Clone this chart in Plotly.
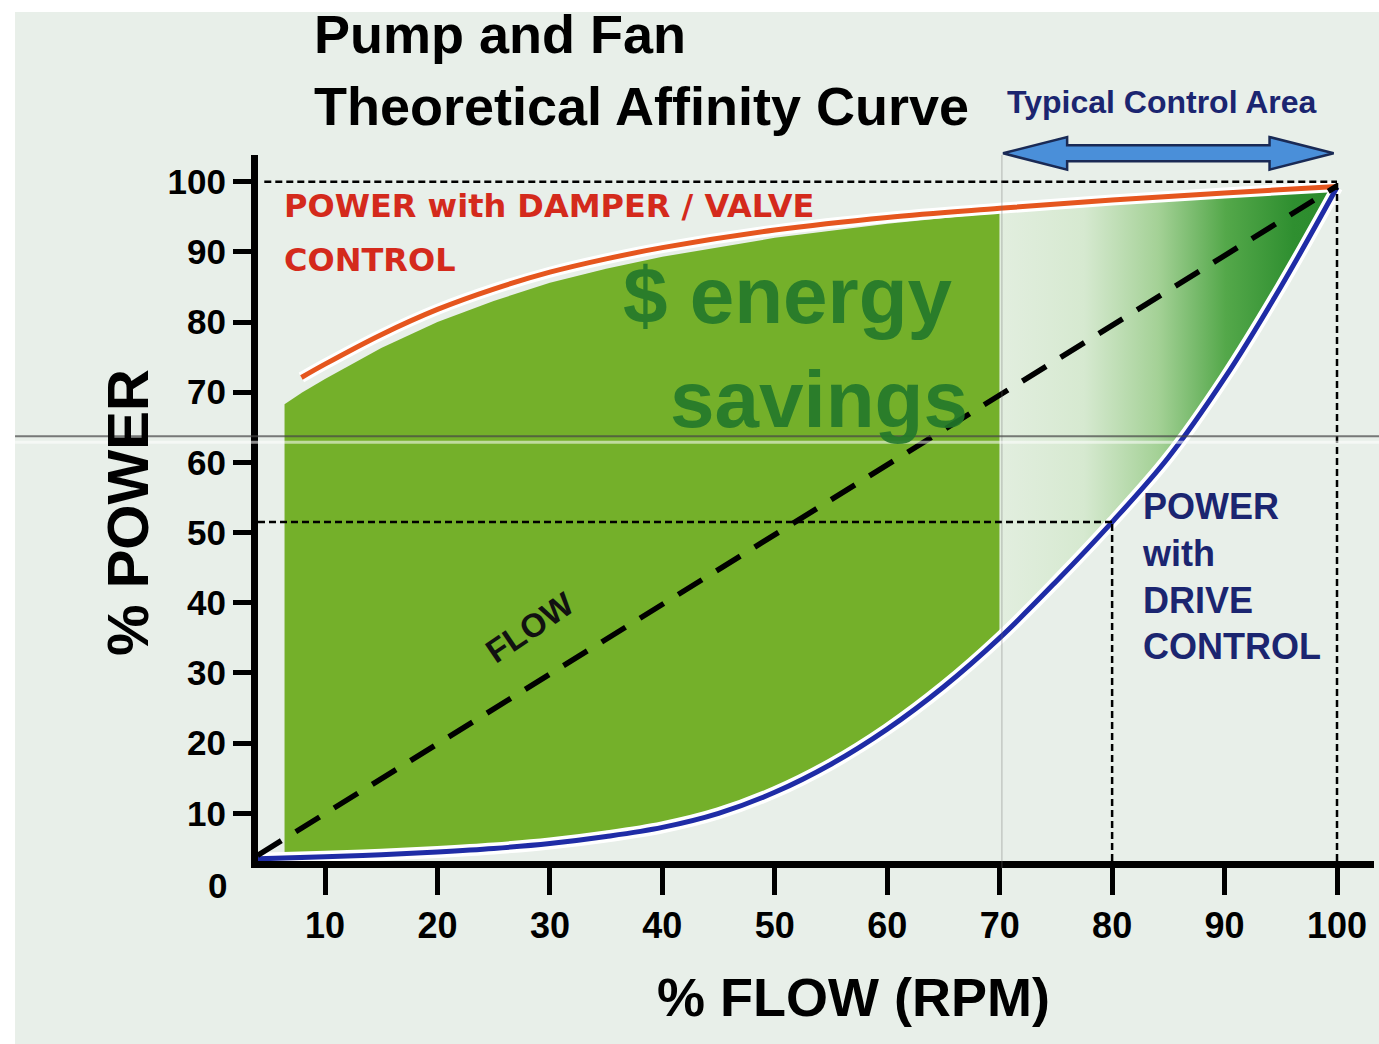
import numpy as np
import plotly.graph_objects as go

# ---------------- data ----------------
FLOW_TICKS = [10, 20, 30, 40, 50, 60, 70, 80, 90, 100]
POWER_TICKS = [10, 20, 30, 40, 50, 60, 70, 80, 90, 100]

# power with damper / valve control (red curve)
DAMPER_FLOW = [7.9, 10, 15, 20, 25, 30, 35, 40, 50, 60, 70, 80, 90, 100]
DAMPER_POWER = [72.1, 74.0, 78.2, 81.8, 84.7, 87.1, 89.0, 90.6, 93.1, 94.9, 96.2, 97.4, 98.4, 99.3]

# upper edge of the green "energy savings" area
SAVINGS_TOP_FLOW = [6.4, 8, 10, 15, 20, 25, 30, 35, 40, 50, 60, 70, 80, 90, 100]
SAVINGS_TOP_POWER = [68.3, 70.0, 71.9, 76.3, 80.0, 83.0, 85.6, 87.6, 89.3, 92.0, 94.0, 95.6, 96.9, 98.0, 99.1]

# power with drive control (blue curve)
DRIVE_FLOW = [3.75, 10, 15, 20, 25, 30, 35, 40, 45, 50, 55, 60, 65, 70, 75, 80, 85, 90, 95, 100]
DRIVE_POWER = [3.5, 3.8, 4.1, 4.5, 5.0, 5.7, 6.7, 8.0, 10.0, 13.0, 17.0, 22.0, 28.0, 35.0, 43.0,
               51.5, 60.7, 72.0, 85.0, 99.2]

# flow line (dashed)
FLOW_LINE_FLOW = [4, 100]
FLOW_LINE_POWER = [4, 99.4]

SAVINGS_START = 6.4          # left edge of the savings area (% flow)
CONTROL_AREA = [70, 100]     # typical control area (% flow)
REF_FLOW, REF_POWER = 80, 51.5
FULL = 100
GUIDE_START = 4.6

X_RANGE = [4.04, 103.29]
Y_RANGE = [3.21, 103.8]

BG = "#e8efe9"
GREEN = "#74b02a"
RED_LINE = "#e5561e"
RED_TEXT = "#d42a1c"
BLUE_LINE = "#1f2ca6"
NAVY = "#1b2570"
DARK_GREEN = "#22782b"

BOLD = "Liberation Sans"

# ---------------- geometry of the filled areas ----------------
split = CONTROL_AREA[0]
top_x1 = [x for x in SAVINGS_TOP_FLOW if x <= split]
top_y1 = [y for x, y in zip(SAVINGS_TOP_FLOW, SAVINGS_TOP_POWER) if x <= split]
bot_x1 = [split] + [x for x in reversed(DRIVE_FLOW) if SAVINGS_START < x < split] + [SAVINGS_START]
bot_y1 = list(np.interp(bot_x1, DRIVE_FLOW, DRIVE_POWER))
poly1_x = top_x1 + bot_x1
poly1_y = top_y1 + bot_y1

top_x2 = [x for x in SAVINGS_TOP_FLOW if x >= split]
top_y2 = [y for x, y in zip(SAVINGS_TOP_FLOW, SAVINGS_TOP_POWER) if x >= split]
bot_x2 = [x for x in reversed(DRIVE_FLOW) if x > split] + [split]
bot_y2 = list(np.interp(bot_x2, DRIVE_FLOW, DRIVE_POWER))
poly2_x = top_x2 + bot_x2
poly2_y = top_y2 + bot_y2

fig = go.Figure()

fig.add_trace(go.Scatter(x=poly1_x, y=poly1_y, fill="toself", fillcolor=GREEN,
                         mode="lines", line=dict(width=0), hoverinfo="skip"))
fig.add_trace(go.Scatter(
    x=poly2_x, y=poly2_y, fill="toself", mode="lines", line=dict(width=0), hoverinfo="skip",
    fillgradient=dict(type="horizontal",
                      colorscale=[[0, "#e2eedf"], [0.25, "#d6e9d0"], [0.47, "#a4d196"],
                                  [0.67, "#54a84a"], [0.87, "#2f8f30"], [1, "#2a8a2b"]])))

# white halos + curves
fig.add_trace(go.Scatter(x=DAMPER_FLOW, y=DAMPER_POWER, mode="lines", line_shape="spline",
                         line=dict(color="white", width=11), hoverinfo="skip"))
fig.add_trace(go.Scatter(x=DRIVE_FLOW, y=DRIVE_POWER, mode="lines", line_shape="spline",
                         line=dict(color="white", width=12), hoverinfo="skip"))
fig.add_trace(go.Scatter(x=DAMPER_FLOW, y=DAMPER_POWER, mode="lines", line_shape="spline",
                         line=dict(color=RED_LINE, width=5), name="Power with damper / valve control"))
fig.add_trace(go.Scatter(x=DRIVE_FLOW, y=DRIVE_POWER, mode="lines", line_shape="spline",
                         line=dict(color=BLUE_LINE, width=5), name="Power with drive control"))
fig.add_trace(go.Scatter(x=FLOW_LINE_FLOW, y=FLOW_LINE_POWER, mode="lines",
                         line=dict(color="black", width=5.5, dash="28px,17px"), name="Flow"))

# ---------------- shapes ----------------
shapes = []
# page background with white scan border
shapes.append(dict(type="rect", xref="paper", yref="paper", x0=-0.2177, x1=1.02, y0=-0.26, y1=1.2025,
                   fillcolor=BG, line=dict(width=0), layer="below"))
guide = dict(color="black", width=2.5, dash="7px,4px")
shapes += [
    dict(type="line", xref="x", yref="y", x0=GUIDE_START, x1=FULL, y0=FULL, y1=FULL, line=guide),
    dict(type="line", xref="x", yref="y", x0=FULL, x1=FULL, y0=Y_RANGE[0], y1=FULL, line=guide),
    dict(type="line", xref="x", yref="y", x0=X_RANGE[0], x1=REF_FLOW, y0=REF_POWER, y1=REF_POWER, line=guide),
    dict(type="line", xref="x", yref="y", x0=REF_FLOW, x1=REF_FLOW, y0=Y_RANGE[0], y1=REF_POWER, line=guide),
]
# faint fold lines of the scanned sheet
shapes.append(dict(type="line", xref="x", yref="paper", x0=70.2, x1=70.2, y0=-0.01, y1=1.0,
                   line=dict(color="rgba(110,110,110,0.45)", width=1)))
shapes.append(dict(type="line", xref="paper", yref="paper", x0=-0.2177, x1=1.02, y0=0.6015, y1=0.6015,
                   line=dict(color="rgba(70,70,70,0.7)", width=2)))
shapes.append(dict(type="line", xref="paper", yref="paper", x0=-0.2177, x1=1.02, y0=0.593, y1=0.593,
                   line=dict(color="rgba(255,255,255,0.55)", width=3)))

# double arrow marking the typical control area
a0, a1 = CONTROL_AREA
hl = 6.0
yc, yh, ys = 1.0024, 0.0231, 0.0113
path = (f"M {a0+0.3},{yc} L {a0+hl},{yc+yh} L {a0+hl},{yc+ys} L {a1-hl},{yc+ys} L {a1-hl},{yc+yh} "
        f"L {a1-0.3},{yc} L {a1-hl},{yc-yh} L {a1-hl},{yc-ys} L {a0+hl},{yc-ys} L {a0+hl},{yc-yh} Z")
shapes.append(dict(type="path", xref="x", yref="paper", path=path, fillcolor="#4a8fd9",
                   line=dict(color="#1a2a55", width=2.5)))

# ---------------- annotations ----------------
def txt(text, x, y, size, color, xref="paper", yref="paper", xanchor="left", angle=0,
        family=BOLD, weight=700, align="left", opacity=1):
    return dict(text=text, x=x, y=y, xref=xref, yref=yref, xanchor=xanchor, yanchor="middle",
                showarrow=False, textangle=angle, align=align, opacity=opacity,
                font=dict(family=family, size=size, color=color, weight=weight))

ann = [
    txt("Pump and Fan", 0.0484, 1.171, 54, "black"),
    txt("Theoretical Affinity Curve", 0.0484, 1.069, 54, "black"),
    txt("Typical Control Area", 0.6694, 1.0748, 32, NAVY),
    txt("% POWER", -0.1174, 0.4943, 58, "black", xanchor="center", angle=-90),
    txt("% FLOW (RPM)", 0.5336, -0.1931, 54, "black", xanchor="center"),
    txt("0", -0.0367, -0.0354, 35, "black", xanchor="center"),
    txt("POWER with DAMPER / VALVE", 6.2, 96.5, 32, RED_TEXT, xref="x", yref="y", family="DejaVu Sans"),
    txt("CONTROL", 6.2, 88.9, 32, RED_TEXT, xref="x", yref="y", family="DejaVu Sans"),
    txt("POWER<br>with<br>DRIVE<br>CONTROL", 82.5, 43.7, 36, NAVY, xref="x", yref="y"),
    txt("$ energy", 51.2, 83.8, 80, DARK_GREEN, xref="x", yref="y", xanchor="center", opacity=0.9),
    txt("savings", 53.9, 69.0, 80, DARK_GREEN, xref="x", yref="y", xanchor="center", opacity=0.9),
    txt("FLOW", 28.2, 36.5, 33, "#111111", xref="x", yref="y", xanchor="center", angle=-34),
]

fig.update_layout(
    width=1379, height=1044,
    margin=dict(l=258, r=5, t=155, b=183),
    paper_bgcolor="white", plot_bgcolor=BG,
    showlegend=False,
    shapes=shapes, annotations=ann,
    xaxis=dict(range=X_RANGE, tickvals=FLOW_TICKS, ticks="outside", ticklen=27, tickwidth=5,
               tickcolor="black", showline=True, linewidth=7, linecolor="black",
               showgrid=False, zeroline=False,
               tickfont=dict(family=BOLD, size=36, color="black", weight=700)),
    yaxis=dict(range=Y_RANGE, tickvals=POWER_TICKS, ticks="outside", ticklen=18, tickwidth=5,
               tickcolor="black", showline=True, linewidth=7, linecolor="black",
               showgrid=False, zeroline=False,
               tickfont=dict(family=BOLD, size=35, color="black", weight=700)),
)

fig.write_html("out.html", config={"displayModeBar": False},
               post_script="document.body.style.margin='0px';document.body.style.padding='0px';")
